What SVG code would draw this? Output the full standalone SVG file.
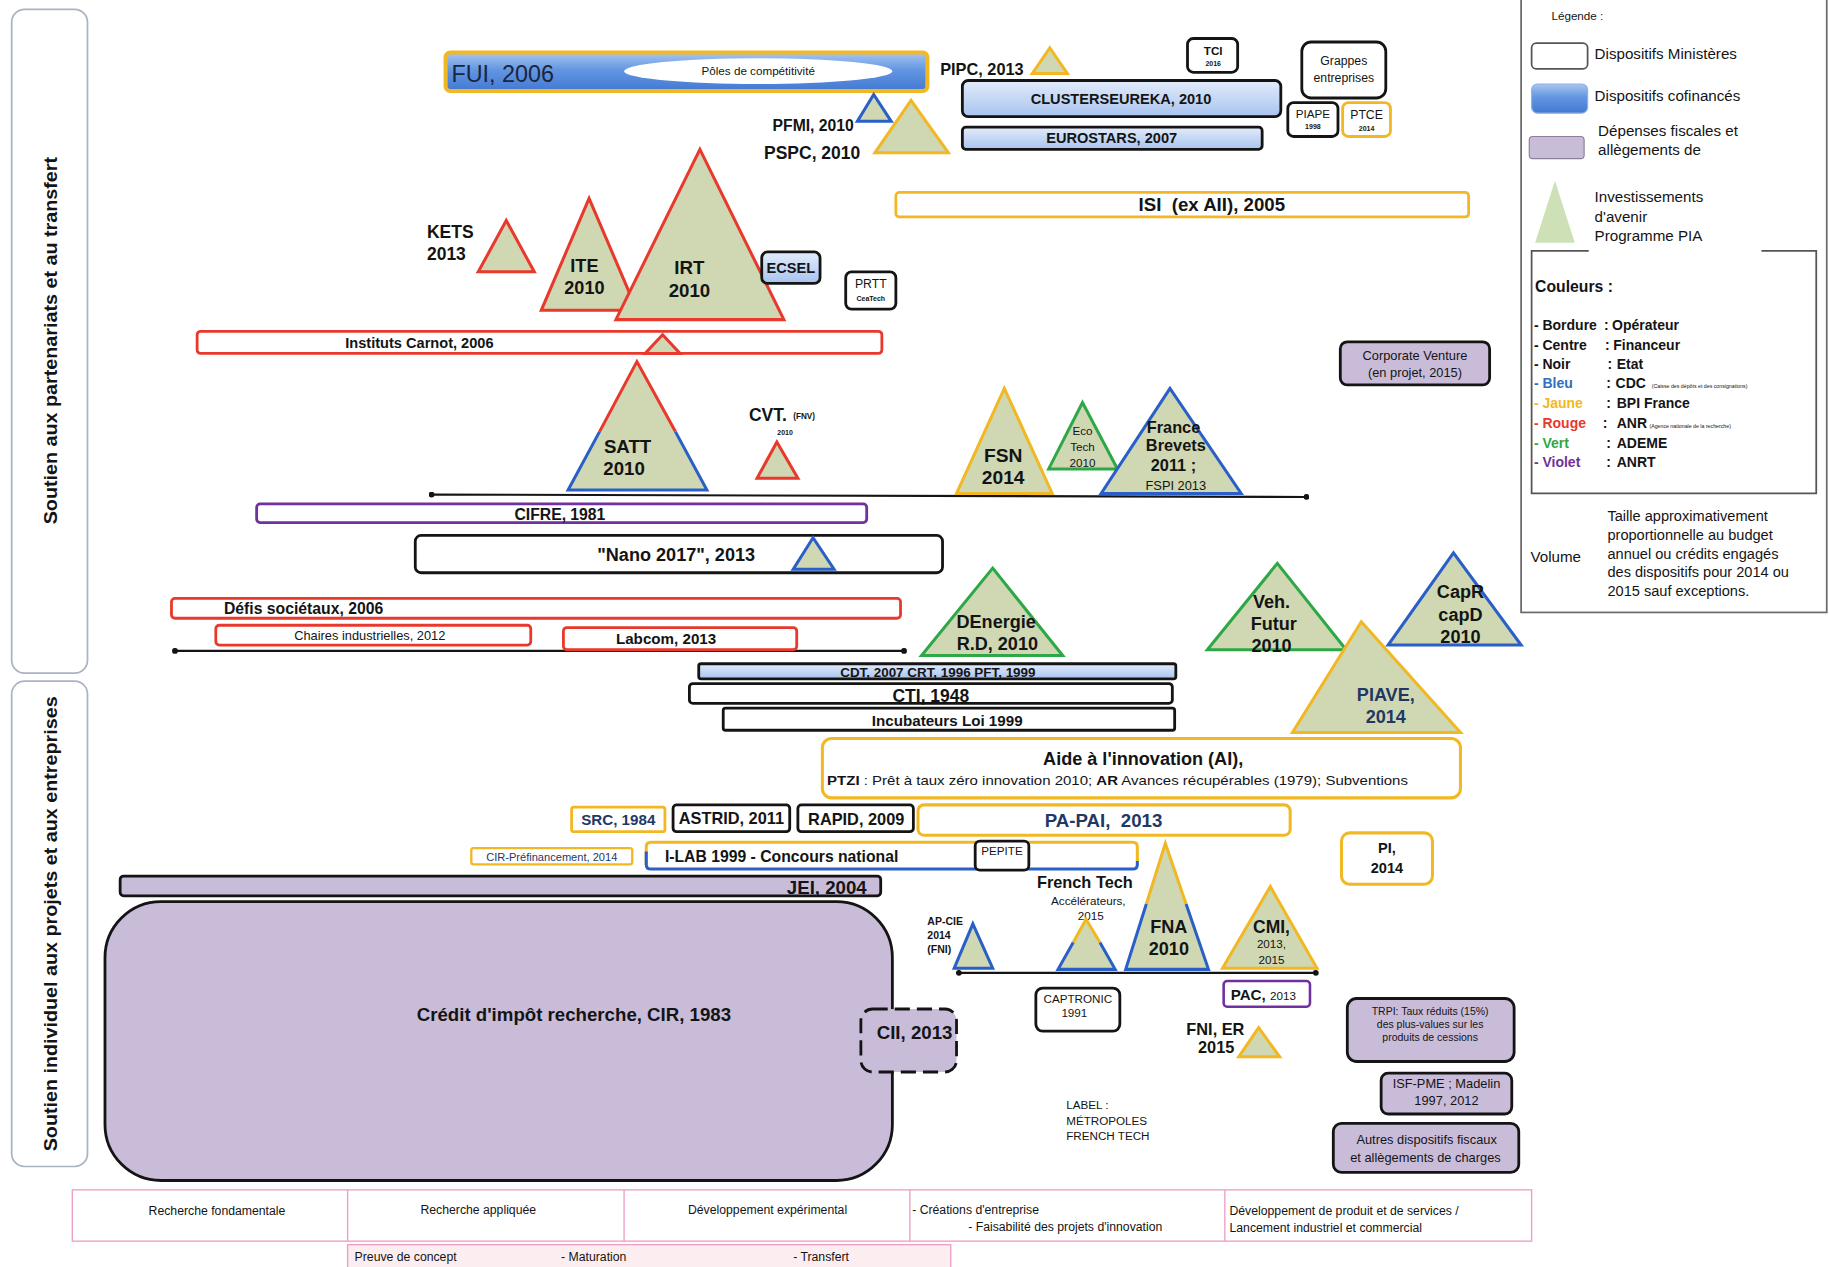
<svg xmlns="http://www.w3.org/2000/svg" width="1829" height="1267" viewBox="0 0 1829 1267">
<defs>
<style>
text{font-family:"Liberation Sans",Arial,sans-serif;fill:#141414}
.b{font-weight:bold}
.m{text-anchor:middle}
.pre{white-space:pre}
.tri{fill:#cfd8b3;stroke-width:2.6;stroke-linejoin:miter}
.fill{fill:#cfd8b3;stroke:none}
.red{stroke:#e8392c}
.yel{stroke:#f2b824}
.blu{stroke:#2a5fc8}
.grn{stroke:#2ea846}
.seg{fill:none;stroke-width:2.6;stroke-linejoin:miter}
.box{fill:#fff;stroke:#141414;stroke-width:2.4}
.rbar{fill:#fff;stroke:#e8392c;stroke-width:2.4}
.ybar{fill:#fff;stroke:#f2b824;stroke-width:2.4}
.lb{fill:url(#lightBlue);stroke:#141414;stroke-width:2.4}
.pur{fill:#c9bcd9;stroke:#141414;stroke-width:2.4}
.panel{fill:#fff;stroke:#a9b4c2;stroke-width:1.5}
.pink{fill:#fff;stroke:#f0a0c8;stroke-width:1.2}
.conn{stroke:#141414;stroke-width:1.8;fill:none;marker-start:url(#dot);marker-end:url(#dot)}
</style>
<linearGradient id="fuiBlue" x1="0" y1="0" x2="0" y2="1">
<stop offset="0" stop-color="#a9c6f0"/>
<stop offset="0.45" stop-color="#6396e2"/>
<stop offset="1" stop-color="#4279d2"/>
</linearGradient>
<linearGradient id="lightBlue" x1="0" y1="0" x2="0" y2="1">
<stop offset="0" stop-color="#e3ecfb"/>
<stop offset="1" stop-color="#a8c3ef"/>
</linearGradient>
<marker id="dot" viewBox="0 0 6 6" refX="3" refY="3" markerWidth="5" markerHeight="5" markerUnits="userSpaceOnUse">
<circle cx="3" cy="3" r="3" fill="#141414"/>
</marker>
</defs>
<rect x="0" y="0" width="1829" height="1267" fill="#fff"/>
<g transform="scale(1.1665)">

<!-- side panels -->
<g id="panel-partenariats">
<rect class="panel" x="10" y="8" width="65" height="569" rx="11"/>
<text class="b m" font-size="16.5" textLength="315" lengthAdjust="spacingAndGlyphs" transform="translate(49,292) rotate(-90)">Soutien aux partenariats et au transfert</text>
</g>
<g id="panel-individuel">
<rect class="panel" x="10" y="584" width="65" height="416" rx="11"/>
<text class="b m" font-size="16.5" textLength="390" lengthAdjust="spacingAndGlyphs" transform="translate(49,792) rotate(-90)">Soutien individuel aux projets et aux entreprises</text>
</g>

<!-- connectors (timeline lines) -->
<g id="connectors">
<line class="conn" x1="370" y1="424" x2="1120" y2="426"/>
<line class="conn" x1="150" y1="558" x2="775" y2="558"/>
<line class="conn" x1="822" y1="834" x2="1128" y2="834"/>
</g>

<!-- top region -->
<g id="fui">
<rect x="382" y="45" width="413" height="33" rx="4" fill="url(#fuiBlue)" stroke="#f2b824" stroke-width="3.5"/>
<text x="387" y="70" font-size="20" style="fill:#1a2540">FUI, 2006</text>
<ellipse cx="650" cy="61" rx="115" ry="11" fill="#fff"/>
<text class="m" x="650" y="64.5" font-size="10">Pôles de compétitivité</text>
</g>
<g id="pipc">
<text class="b" x="806" y="64" font-size="14">PIPC, 2013</text>
<polygon class="tri yel" points="900,41 885,63 915,63"/>
</g>
<g id="tci">
<rect class="box" x="1018" y="33" width="43" height="29" rx="5"/>
<text class="b m" x="1040" y="47" font-size="10">TCI</text>
<text class="b m" x="1040" y="57" font-size="6">2016</text>
</g>
<g id="grappes">
<rect class="box" x="1116" y="36" width="72" height="48" rx="8"/>
<text class="m" x="1152" y="56" font-size="10.5">Grappes</text>
<text class="m" x="1152" y="70" font-size="10.5">entreprises</text>
</g>
<g id="clusters-eureka">
<rect class="lb" x="825" y="69" width="273" height="31" rx="5"/>
<text class="b m" x="961" y="89" font-size="12.5">CLUSTERSEUREKA, 2010</text>
</g>
<g id="piape">
<rect class="box" x="1104" y="88" width="43" height="29" rx="5"/>
<text class="m" x="1125.5" y="101" font-size="10">PIAPE</text>
<text class="b m" x="1125.5" y="111" font-size="6">1998</text>
</g>
<g id="ptce">
<rect x="1151" y="88" width="41" height="29" rx="5" fill="#fff" stroke="#f2b824" stroke-width="2.4"/>
<text class="m" x="1171.5" y="102" font-size="10.5">PTCE</text>
<text class="b m" x="1171.5" y="112" font-size="6">2014</text>
</g>
<g id="eurostars">
<rect class="lb" x="825" y="109" width="257" height="19" rx="3"/>
<text class="b m" x="953" y="123" font-size="12.5">EUROSTARS, 2007</text>
</g>
<g id="pfmi">
<text class="b" x="732" y="112" font-size="13.5" text-anchor="end">PFMI, 2010</text>
<polygon class="tri blu" points="749,81 735,104 764,104"/>
</g>
<g id="pspc">
<text class="b" x="655" y="136" font-size="15">PSPC, 2010</text>
<polygon class="tri yel" points="781,86 750,131 813,131"/>
</g>
<g id="isi">
<rect class="ybar" x="768" y="165" width="491" height="21" rx="3"/>
<text class="b pre" x="976" y="181" font-size="16">ISI  (ex AII), 2005</text>
</g>
<g id="kets">
<text class="b" x="366" y="204" font-size="15">KETS</text>
<text class="b" x="366" y="223" font-size="15">2013</text>
<polygon class="tri red" points="434,189 410,233 458,233"/>
</g>
<g id="ite">
<polygon class="tri red" points="505,170 464,266 546,266"/>
<text class="b m" x="501" y="233" font-size="15.5">ITE</text>
<text class="b m" x="501" y="252" font-size="15.5">2010</text>
</g>
<g id="irt">
<polygon class="tri red" points="600,128 528,274 672,274"/>
<text class="b m" x="591" y="235" font-size="16">IRT</text>
<text class="b m" x="591" y="255" font-size="16">2010</text>
</g>
<g id="ecsel">
<rect class="lb" x="653" y="216" width="50" height="27" rx="5"/>
<text class="b m" x="678" y="234" font-size="12.5">ECSEL</text>
</g>
<g id="prtt">
<rect class="box" x="725" y="233" width="43" height="32" rx="5"/>
<text class="m" x="746.5" y="247" font-size="10.5">PRTT</text>
<text class="b m" x="746.5" y="258" font-size="6">CeaTech</text>
</g>
<g id="instituts-carnot">
<rect class="rbar" x="169" y="284" width="587" height="19" rx="3"/>
<text class="b" x="296" y="298.5" font-size="12.5">Instituts Carnot, 2006</text>
<polygon class="tri red" points="568,287 553,303 583,303"/>
</g>
<g id="corporate-venture">
<rect class="pur" x="1149" y="293" width="128" height="37" rx="6"/>
<text class="m" x="1213" y="309" font-size="11">Corporate Venture</text>
<text class="m" x="1213" y="323" font-size="11">(en projet, 2015)</text>
</g>

<!-- middle region -->
<g id="satt">
<polygon class="fill" points="546,310 487,420 606,420"/>
<polyline class="seg red" points="514,370 546,310 579,370"/>
<polyline class="seg blu" points="514,370 487,420 606,420 579,370"/>
<text class="b m" x="538" y="388" font-size="16">SATT</text>
<text class="b m" x="535" y="407" font-size="16">2010</text>
</g>
<g id="cvt">
<text class="b" x="642" y="361" font-size="15">CVT.</text>
<text class="b" x="680" y="359" font-size="7">(FNV)</text>
<text class="b m" x="673" y="373" font-size="6">2010</text>
<polygon class="tri red" points="666,379 649,410 684,410"/>
</g>
<g id="fsn">
<polygon class="tri yel" points="861,333 820,423 902,423"/>
<text class="b m" x="860" y="396" font-size="16.5">FSN</text>
<text class="b m" x="860" y="415" font-size="16.5">2014</text>
</g>
<g id="ecotech">
<polygon class="tri grn" points="928,345 899,402 958,402"/>
<text class="m" x="928" y="373" font-size="10">Eco</text>
<text class="m" x="928" y="387" font-size="10">Tech</text>
<text class="m" x="928" y="400" font-size="10">2010</text>
</g>
<g id="france-brevets">
<polygon class="tri blu" points="1003,333 944,423 1064,423"/>
<text class="b m" x="1006" y="371" font-size="14">France</text>
<text class="b m" x="1008" y="387" font-size="14">Brevets</text>
<text class="b m" x="1006" y="404" font-size="14">2011 ;</text>
<text class="m" x="1008" y="420" font-size="11">FSPI 2013</text>
</g>
<g id="cifre">
<rect x="220" y="432" width="523" height="16" rx="3" fill="#fff" stroke="#7030a0" stroke-width="2.4"/>
<text class="b" x="441" y="445.5" font-size="13.5">CIFRE, 1981</text>
</g>
<g id="nano2017">
<rect class="box" x="356" y="459" width="452" height="32" rx="5"/>
<text class="b" x="512" y="481" font-size="15.5">"Nano 2017", 2013</text>
<polygon class="tri blu" points="697,461 680,488 715,488"/>
</g>
<g id="defis-societaux">
<rect class="rbar" x="147" y="513" width="625" height="17" rx="3"/>
<text class="b" x="192" y="526.5" font-size="13.5">Défis sociétaux, 2006</text>
</g>
<g id="chaires-industrielles">
<rect class="rbar" x="185" y="536" width="270" height="17" rx="3"/>
<text class="m" x="317" y="548.5" font-size="11">Chaires industrielles, 2012</text>
</g>
<g id="labcom">
<rect class="rbar" x="483" y="538" width="200" height="19" rx="3"/>
<text class="b m" x="571" y="552.5" font-size="13">Labcom, 2013</text>
</g>
<g id="denergie">
<polygon class="tri grn" points="851,487 790,562 911,562"/>
<text class="b m" x="854" y="538" font-size="15.5">DEnergie</text>
<text class="b m" x="855" y="557" font-size="15.5">R.D, 2010</text>
</g>
<g id="veh-futur">
<polygon class="tri grn" points="1095,483 1035,557 1154,557"/>
<text class="b m" x="1090" y="521" font-size="15.5">Veh.</text>
<text class="b m" x="1092" y="540" font-size="15.5">Futur</text>
<text class="b m" x="1090" y="559" font-size="15.5">2010</text>
</g>
<g id="capr-capd">
<polygon class="tri blu" points="1246,474 1190,553 1304,553"/>
<text class="b m" x="1252" y="513" font-size="15.5">CapR</text>
<text class="b m" x="1252" y="532" font-size="15.5">capD</text>
<text class="b m" x="1252" y="551" font-size="15.5">2010</text>
</g>
<g id="piave">
<polygon class="tri yel" points="1167,533 1108,628 1252,628"/>
<text class="b m" x="1188" y="601" font-size="15.5" style="fill:#1f3864">PIAVE,</text>
<text class="b m" x="1188" y="620" font-size="15.5" style="fill:#1f3864">2014</text>
</g>
<g id="cdt-crt-pft">
<rect class="lb" x="599" y="569" width="409" height="13" rx="2"/>
<text class="b m" x="804" y="580.5" font-size="11.5">CDT, 2007 CRT, 1996 PFT, 1999</text>
</g>
<g id="cti">
<rect class="box" x="591" y="586" width="414" height="17" rx="3"/>
<text class="b m" x="798" y="602" font-size="15">CTI, 1948</text>
</g>
<g id="incubateurs">
<rect class="box" x="620" y="607" width="387" height="19" rx="2"/>
<text class="b m" x="812" y="622" font-size="13">Incubateurs Loi 1999</text>
</g>
<g id="aide-innovation">
<rect x="705" y="633" width="547" height="51" rx="8" fill="#fff" stroke="#f2b824" stroke-width="2.6"/>
<text class="b m" x="980" y="656" font-size="15.5">Aide à l'innovation (AI),</text>
<text x="709" y="673" font-size="11" textLength="498" lengthAdjust="spacingAndGlyphs"><tspan class="b">PTZI</tspan> : Prêt à taux zéro innovation 2010; <tspan class="b">AR</tspan> Avances récupérables (1979); Subventions</text>
</g>
<g id="src">
<rect class="ybar" x="490" y="692" width="80" height="21" rx="2"/>
<text class="b m" x="530" y="707.5" font-size="13" style="fill:#1f3864">SRC, 1984</text>
</g>
<g id="astrid">
<rect class="box" x="577" y="690" width="100" height="23" rx="3"/>
<text class="b m" x="627" y="706" font-size="14">ASTRID, 2011</text>
</g>
<g id="rapid">
<rect class="box" x="684" y="690" width="99" height="23" rx="3"/>
<text class="b m" x="734" y="707" font-size="14">RAPID, 2009</text>
</g>
<g id="pa-pai">
<rect x="787" y="690" width="319" height="26" rx="5" fill="#fff" stroke="#f2b824" stroke-width="2.6"/>
<text class="b m pre" x="946" y="709" font-size="16" style="fill:#1f3864">PA-PAI,  2013</text>
</g>
<g id="pi">
<rect x="1150" y="714" width="78" height="44" rx="7" fill="#fff" stroke="#f2b824" stroke-width="2.6"/>
<text class="b m" x="1189" y="731" font-size="12.5">PI,</text>
<text class="b m" x="1189" y="748" font-size="12.5">2014</text>
</g>

<!-- lower region -->
<g id="cir-prefinancement">
<rect x="404" y="727" width="138" height="14" rx="2" fill="#fff" stroke="#f2b824" stroke-width="2"/>
<text class="m" x="473" y="738" font-size="9.5" style="fill:#1f3864">CIR-Préfinancement, 2014</text>
</g>
<g id="i-lab">
<rect x="554" y="722" width="421" height="23" rx="4" fill="#fff" stroke="none"/>
<path d="M554,741 L554,726 Q554,722 558,722 L971,722 Q975,722 975,726 L975,738" fill="none" stroke="#f2b824" stroke-width="2.6"/>
<path d="M554,730 L554,741 Q554,745 558,745 L971,745 Q975,745 975,741 L975,738" fill="none" stroke="#2a5fc8" stroke-width="2.6"/>
<text class="b" x="570" y="739" font-size="13.5">I-LAB 1999 - Concours national</text>
</g>
<g id="pepite">
<rect class="box" x="836" y="721" width="46" height="25" rx="4"/>
<text class="m" x="859" y="733" font-size="10">PEPITE</text>
</g>
<g id="jei">
<rect class="pur" x="103" y="751" width="652" height="17" rx="3"/>
<text class="b" x="743" y="766" font-size="16" text-anchor="end">JEI, 2004</text>
</g>
<g id="cir">
<rect class="pur" x="90" y="773" width="675" height="239" rx="48"/>
<text class="b m" x="492" y="875" font-size="16">Crédit d'impôt recherche, CIR, 1983</text>
</g>
<g id="cii">
<rect x="738" y="865" width="82" height="54" rx="10" fill="#c9bcd9" stroke="#141414" stroke-width="2.4" stroke-dasharray="13,6"/>
<text class="b m" x="784" y="891" font-size="16">CII, 2013</text>
</g>
<g id="french-tech">
<text class="b m" x="930" y="761" font-size="14">French Tech</text>
<text class="m" x="933" y="776" font-size="10">Accélérateurs,</text>
<text class="m" x="935" y="789" font-size="10">2015</text>
<polygon class="fill" points="931,788 907,831 956,831"/>
<polyline class="seg yel" points="920,808 931,788 943,808"/>
<polyline class="seg blu" points="920,808 907,831 956,831 943,808"/>
</g>
<g id="fna">
<polygon class="fill" points="999,723 965,831 1036,831"/>
<polyline class="seg yel" points="982.7,775 999,723 1016.8,775"/>
<polyline class="seg blu" points="982.7,775 965,831 1036,831 1016.8,775"/>
<text class="b m" x="1002" y="800" font-size="15.5">FNA</text>
<text class="b m" x="1002" y="819" font-size="15.5">2010</text>
</g>
<g id="ap-cie">
<text class="b" x="795" y="793" font-size="9">AP-CIE</text>
<text class="b" x="795" y="805" font-size="9">2014</text>
<text class="b" x="795" y="817" font-size="9">(FNI)</text>
<polygon class="tri blu" points="834,792 818,830 851,830"/>
</g>
<g id="cmi">
<polygon class="tri yel" points="1089,760 1048,830 1129,830"/>
<text class="b m" x="1090" y="800" font-size="15">CMI,</text>
<text class="m" x="1090" y="813" font-size="10">2013,</text>
<text class="m" x="1090" y="826" font-size="10">2015</text>
</g>
<g id="captronic">
<rect class="box" x="888" y="847" width="72" height="37" rx="6"/>
<text class="m" x="924" y="860" font-size="10">CAPTRONIC</text>
<text class="m" x="921" y="872" font-size="10">1991</text>
</g>
<g id="pac">
<rect x="1049" y="841" width="74" height="22" rx="3" fill="#fff" stroke="#7030a0" stroke-width="2.2"/>
<text class="b" x="1055" y="857" font-size="13">PAC, <tspan font-size="10" font-weight="normal">2013</tspan></text>
</g>
<g id="fni-er">
<text class="b" x="1017" y="887" font-size="14">FNI, ER</text>
<text class="b" x="1027" y="903" font-size="14">2015</text>
<polygon class="tri yel" points="1079,881 1062,906 1097,906"/>
</g>
<g id="trpi">
<rect class="pur" x="1155" y="856" width="143" height="54" rx="8"/>
<text class="m" x="1226" y="870" font-size="9">TRPI: Taux réduits (15%)</text>
<text class="m" x="1226" y="881" font-size="9">des plus-values sur les</text>
<text class="m" x="1226" y="892" font-size="9">produits de cessions</text>
</g>
<g id="isf-pme">
<rect class="pur" x="1184" y="920" width="112" height="35" rx="6"/>
<text class="m" x="1240" y="933" font-size="11">ISF-PME ; Madelin</text>
<text class="m" x="1240" y="947" font-size="11">1997, 2012</text>
</g>
<g id="autres-dispositifs">
<rect class="pur" x="1143" y="963" width="159" height="42" rx="7"/>
<text class="m" x="1223" y="981" font-size="11">Autres dispositifs fiscaux</text>
<text class="m" x="1222" y="996" font-size="11">et allègements de charges</text>
</g>
<g id="label-french-tech">
<text x="914" y="951" font-size="10">LABEL :</text>
<text x="914" y="964" font-size="10">MÉTROPOLES</text>
<text x="914" y="977" font-size="10">FRENCH TECH</text>
</g>

<!-- bottom table -->
<g id="stages">
<rect class="pink" x="62" y="1020" width="1251" height="44"/>
<line x1="298" y1="1020" x2="298" y2="1064" stroke="#f0a0c8" stroke-width="1.2"/>
<line x1="535" y1="1020" x2="535" y2="1064" stroke="#f0a0c8" stroke-width="1.2"/>
<line x1="780" y1="1020" x2="780" y2="1064" stroke="#f0a0c8" stroke-width="1.2"/>
<line x1="1050" y1="1020" x2="1050" y2="1064" stroke="#f0a0c8" stroke-width="1.2"/>
<text class="m" x="186" y="1042" font-size="10.5">Recherche fondamentale</text>
<text class="m" x="410" y="1041" font-size="10.5">Recherche appliquée</text>
<text class="m" x="658" y="1041" font-size="10.5">Développement expérimental</text>
<text x="782" y="1041" font-size="10.5">- Créations d'entreprise</text>
<text x="830" y="1055" font-size="10.5">- Faisabilité des projets d'innovation</text>
<text x="1054" y="1042" font-size="10.5">Développement de produit et de services /</text>
<text x="1054" y="1056" font-size="10.5">Lancement industriel et commercial</text>
</g>
<g id="transfer-stages">
<rect x="298" y="1067" width="517" height="20" fill="#fcedf0" stroke="#f0a0c8" stroke-width="1.2"/>
<text x="304" y="1081" font-size="10.5">Preuve de concept</text>
<text x="481" y="1081" font-size="10.5">- Maturation</text>
<text x="680" y="1081" font-size="10.5">- Transfert</text>
</g>

<!-- legend -->
<g id="legend">
<rect x="1304" y="-2" width="262" height="527" fill="#fff" stroke="#6b6b6b" stroke-width="1.5"/>
<text x="1330" y="17" font-size="10">Légende :</text>
<rect x="1313" y="37" width="48" height="22" rx="4" fill="#fff" stroke="#555" stroke-width="1.5"/>
<text x="1367" y="51" font-size="13">Dispositifs Ministères</text>
<rect x="1313" y="72" width="48" height="25" rx="5" fill="url(#fuiBlue)" stroke="#8fb0e0" stroke-width="1"/>
<text x="1367" y="87" font-size="13">Dispositifs cofinancés</text>
<rect x="1311" y="117" width="47" height="19" rx="3" fill="#c9bcd9" stroke="#8a8098" stroke-width="1"/>
<text x="1370" y="117" font-size="13">Dépenses fiscales et</text>
<text x="1370" y="133" font-size="13">allègements de</text>
<polygon points="1333,155 1316,208 1350,208" fill="#cde0b6"/>
<text x="1367" y="173" font-size="13">Investissements</text>
<text x="1367" y="190" font-size="13">d'avenir</text>
<text x="1367" y="207" font-size="13">Programme PIA</text>
<path d="M1362,215 L1313,215 L1313,423 L1557,423 L1557,215 L1510,215" fill="none" stroke="#555" stroke-width="1.5"/>
<text class="b" x="1316" y="250" font-size="13.5">Couleurs :</text>
<text class="b" y="283" font-size="12"><tspan x="1315">- Bordure</tspan><tspan x="1375">:</tspan><tspan x="1382">Opérateur</tspan></text>
<text class="b" y="300" font-size="12"><tspan x="1315">- Centre</tspan><tspan x="1376">:</tspan><tspan x="1383">Financeur</tspan></text>
<text class="b" y="316" font-size="12"><tspan x="1315">- Noir</tspan><tspan x="1378">:</tspan><tspan x="1386">Etat</tspan></text>
<text class="b" y="333" font-size="12"><tspan x="1315" style="fill:#2e6fc0">- Bleu</tspan><tspan x="1377">:</tspan><tspan x="1385">CDC</tspan><tspan x="1416" font-size="4.5" font-weight="normal">(Caisse des dépôts et des consignations)</tspan></text>
<text class="b" y="350" font-size="12"><tspan x="1315" style="fill:#f2b824">- Jaune</tspan><tspan x="1377">:</tspan><tspan x="1386">BPI France</tspan></text>
<text class="b" y="367" font-size="12"><tspan x="1315" style="fill:#e8392c">- Rouge</tspan><tspan x="1374">:</tspan><tspan x="1386">ANR</tspan><tspan x="1414" font-size="4.5" font-weight="normal">(Agence nationale de la recherche)</tspan></text>
<text class="b" y="384" font-size="12"><tspan x="1315" style="fill:#2ea846">- Vert</tspan><tspan x="1377">:</tspan><tspan x="1386">ADEME</tspan></text>
<text class="b" y="400" font-size="12"><tspan x="1315" style="fill:#7030a0">- Violet</tspan><tspan x="1377">:</tspan><tspan x="1386">ANRT</tspan></text>
<text x="1312" y="482" font-size="13">Volume</text>
<text x="1378" y="447" font-size="12.5">Taille approximativement</text>
<text x="1378" y="463" font-size="12.5">proportionnelle au budget</text>
<text x="1378" y="479" font-size="12.5">annuel ou crédits engagés</text>
<text x="1378" y="495" font-size="12.5">des dispositifs pour 2014 ou</text>
<text x="1378" y="511" font-size="12.5">2015 sauf exceptions.</text>
</g>
</g>
</svg>
